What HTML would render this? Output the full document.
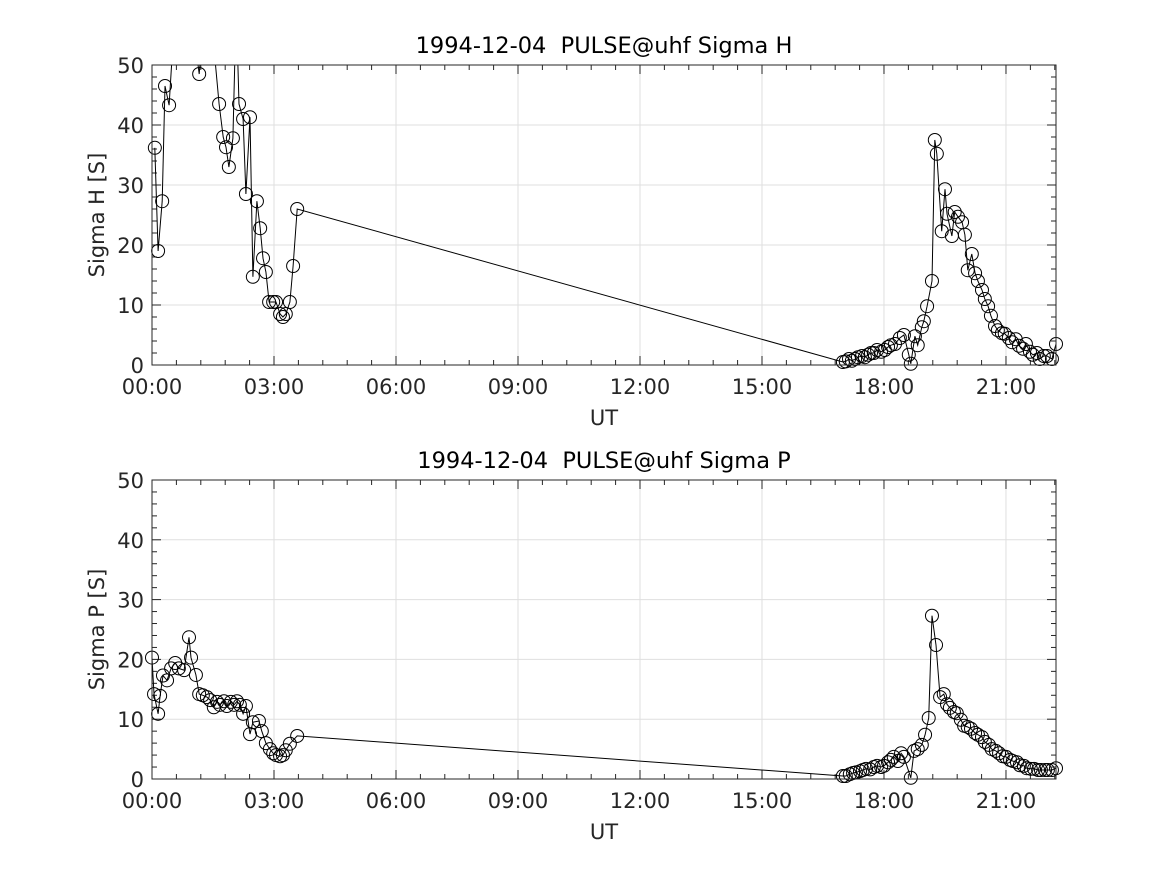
<!DOCTYPE html>
<html><head><meta charset="utf-8"><style>
html,body{margin:0;padding:0;background:#fff;}
svg{display:block;font-family:"DejaVu Sans","Liberation Sans",sans-serif;}
</style></head><body>
<svg id="chart" width="1167" height="875"></svg>
<script>
const xTickLabels = ["00:00","03:00","06:00","09:00","12:00","15:00","18:00","21:00"];
const yTickLabels = ["0","10","20","30","40","50"];
const hTimes = [0.07,0.15,0.25,0.32,0.42,0.59,0.79,0.98,1.16,1.30,1.48,1.65,1.75,1.82,1.89,1.99,2.07,2.14,2.24,2.31,2.41,2.48,2.58,2.66,2.73,2.80,2.88,2.98,3.05,3.15,3.22,3.29,3.39,3.47,3.57,
16.99,17.06,17.14,17.21,17.29,17.36,17.46,17.53,17.61,17.68,17.75,17.83,17.93,18.02,18.10,18.17,18.27,18.39,18.49,18.61,18.66,18.76,18.83,18.93,18.98,19.06,19.18,19.25,19.30,19.42,19.50,19.55,19.67,19.74,19.82,19.92,19.99,20.06,20.16,20.24,20.31,20.41,20.48,20.56,20.63,20.73,20.80,20.90,20.97,21.07,21.15,21.24,21.32,21.42,21.49,21.59,21.66,21.76,21.83,21.93,22.01,22.13,22.23];
const sigmaH = [36.2,19,27.3,46.5,43.3,62,68,58,48.5,60,56,43.5,38,36.3,33,37.8,60,43.5,41,28.5,41.3,14.7,27.3,22.8,17.8,15.5,10.5,10.5,10.5,8.5,8,8.5,10.5,16.5,26,
0.5,0.6,1,0.7,1,1.3,1.5,1.3,1.7,2,2,2.5,2.2,2.5,3,3.3,3.5,4.5,5,1.7,0.2,4.8,3.3,6.3,7.3,9.8,14,37.5,35.2,22.3,29.3,25.2,21.5,25.5,24.7,23.8,21.7,15.8,18.5,15.3,14,12.5,11,9.8,8.2,6.5,5.8,5.3,5.2,4.5,3.8,4.3,3.2,2.7,3.5,2.2,1.7,2,1,1.5,1.5,1,3.5];
const pTimes = [0.00,0.05,0.15,0.20,0.27,0.37,0.47,0.57,0.66,0.79,0.91,0.96,1.08,1.16,1.25,1.35,1.43,1.52,1.60,1.67,1.77,1.84,1.94,2.02,2.09,2.16,2.24,2.31,2.41,2.48,2.63,2.70,2.80,2.90,2.98,3.05,3.15,3.22,3.29,3.39,3.57,
16.99,17.06,17.16,17.24,17.31,17.41,17.48,17.56,17.66,17.75,17.83,17.93,18.00,18.10,18.17,18.24,18.34,18.42,18.49,18.66,18.74,18.83,18.93,19.01,19.10,19.18,19.28,19.38,19.47,19.55,19.62,19.72,19.79,19.89,19.97,20.06,20.14,20.24,20.31,20.41,20.48,20.58,20.65,20.75,20.83,20.92,21.00,21.10,21.17,21.27,21.34,21.44,21.51,21.61,21.69,21.79,21.86,21.96,22.03,22.13,22.23];
const sigmaP = [20.3,14.2,10.9,13.9,17.3,16.5,18.5,19.4,18.5,18.2,23.7,20.3,17.4,14.2,14,13.7,13.2,12,12.9,12.4,13,12.2,12.9,12.4,13,12.4,10.9,12.2,7.5,9.5,9.7,8,6,5,4.3,4,3.8,4,4.8,5.9,7.2,
0.5,0.5,0.8,1,1.1,1.3,1.5,1.7,1.6,2,2.2,2,2.2,2.8,3.2,3.7,3,4.3,3.7,0.2,4.7,5,5.7,7.4,10.2,27.3,22.4,13.7,14.2,12.5,11.9,11.2,11,9.9,8.9,8.7,8.4,7.7,7.4,7,6.2,5.7,5,4.7,4.3,3.8,3.7,3.2,3,2.8,2.3,2.2,1.8,1.7,1.7,1.5,1.5,1.5,1.5,1.5,1.8];

const NS="http://www.w3.org/2000/svg";
const svg=document.getElementById('chart');
function mk(tag,attrs,parent){const e=document.createElementNS(NS,tag);for(const k in attrs)e.setAttribute(k,attrs[k]);(parent||svg).appendChild(e);return e;}
const L=152,R=1056,XMAX=22.23,YMAX=50;
function drawPanel(top,bottom,times,vals,title,ylabel,key){
  const sx=t=>L+(t/XMAX)*(R-L);
  const sy=v=>bottom-(v/YMAX)*(bottom-top);
  const g=mk('g',{});
  
  
  mk('rect',{x:L,y:top,width:R-L,height:bottom-top,fill:'#fff'},g);
  for(let i=0;i<xTickLabels.length;i++){const x=sx(i*3);
    const gl=mk('line',{x1:x,x2:x,y1:top,y2:bottom,stroke:'#dfdfdf','stroke-width':1},g);
    }
  for(let i=0;i<yTickLabels.length;i++){const y=sy(+yTickLabels[i]);
    const gl=mk('line',{x1:L,x2:R,y1:y,y2:y,stroke:'#dfdfdf','stroke-width':1},g);
    }
  for(let t=0;t<=XMAX;t+=0.6){const x=sx(t);const major=Math.abs(t/3-Math.round(t/3))<0.01;const len=major?9:5;
    mk('line',{x1:x,x2:x,y1:bottom,y2:bottom-len,stroke:'#262626'},g);mk('line',{x1:x,x2:x,y1:top,y2:top+len,stroke:'#262626'},g);}
  for(let v=0;v<=YMAX;v+=2){const y=sy(v);const len=(v%10===0)?9:5;
    mk('line',{x1:L,x2:L+len,y1:y,y2:y,stroke:'#262626'},g);mk('line',{x1:R,x2:R-len,y1:y,y2:y,stroke:'#262626'},g);}
  xTickLabels.forEach((lab,i)=>{const t=mk('text',{x:sx(i*3),y:bottom+29,'text-anchor':'middle','font-size':21,fill:'#262626'},g);t.textContent=lab;
    });
  yTickLabels.forEach(lab=>{const t=mk('text',{x:L-8,y:sy(+lab)+8,'text-anchor':'end','font-size':21,fill:'#262626'},g);t.textContent=lab;
    });
  const cid='clip-'+key;
  const cp=mk('clipPath',{id:cid},g);mk('rect',{x:L,y:top,width:R-L,height:bottom-top},cp);
  const sg=mk('g',{},g);
  
  const n=Math.min(times.length,vals.length);
  let d='';for(let i=0;i<n;i++)d+=(i?'L':'M')+sx(times[i]).toFixed(1)+' '+sy(vals[i]).toFixed(1);
  const ln=mk('path',{d:d,fill:'none',stroke:'#000','stroke-width':1,'clip-path':'url(#'+cid+')'},sg);
  
  for(let i=0;i<n;i++){if(vals[i]>YMAX||vals[i]<0)continue;
    const c=mk('circle',{cx:sx(times[i]),cy:sy(vals[i]),r:6.5,fill:'none',stroke:'#000','stroke-width':1},sg);
    }
  mk('rect',{x:L,y:top,width:R-L,height:bottom-top,fill:'none',stroke:'#262626','stroke-width':1},g);
  const tt=mk('text',{x:(L+R)/2,y:top-12,'text-anchor':'middle','font-size':22.5,fill:'#000',style:'white-space:pre'},g);tt.textContent=title;
  
  const xl=mk('text',{x:(L+R)/2,y:bottom+60,'text-anchor':'middle','font-size':21,fill:'#262626'},g);xl.textContent='UT';
  
  const yl=mk('text',{x:0,y:0,'text-anchor':'middle','font-size':21,fill:'#262626',transform:'translate(104,'+((top+bottom)/2)+') rotate(-90)'},g);yl.textContent=ylabel;
  
}
drawPanel(65,365,hTimes,sigmaH,'1994-12-04  PULSE@uhf Sigma H','Sigma H [S]','sigma-h');
drawPanel(480,779,pTimes,sigmaP,'1994-12-04  PULSE@uhf Sigma P','Sigma P [S]','sigma-p');
</script>
</body></html>
